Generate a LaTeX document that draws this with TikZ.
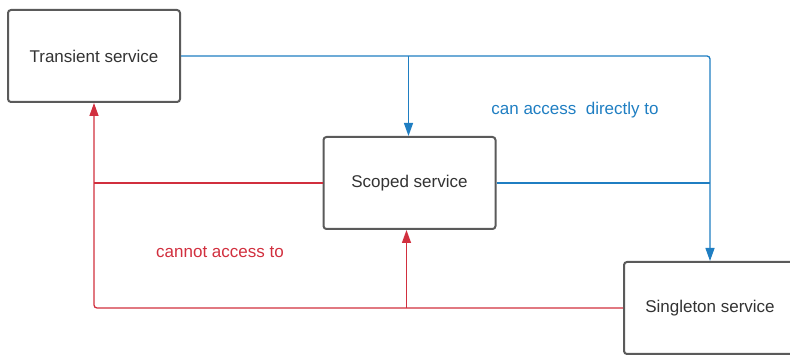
\documentclass[tikz,border=0pt]{standalone}
\usepackage{fontspec}
\setmainfont{Liberation Sans}
\usetikzlibrary{arrows.meta}
\definecolor{boxgray}{HTML}{5A5A5A}
\definecolor{canblue}{HTML}{1F7EC2}
\definecolor{cantred}{HTML}{D12F3E}
\tikzstyle{service} = [rectangle, rounded corners=3pt, minimum width=172pt, minimum height=92pt, draw=boxgray, line width=2pt, fill=white, text=black!80, font=\fontsize{17}{20}\selectfont]
\tikzstyle{access} = [line width=1.3pt, draw=canblue, rounded corners=3pt]
\tikzstyle{noaccess} = [line width=1.3pt, draw=cantred, rounded corners=3pt]
\tikzstyle{tip} = [-{Triangle[length=13pt,width=9pt]}]
\tikzstyle{label} = [font=\fontsize{17}{20}\selectfont]

\begin{document}
\begin{tikzpicture}[x=1pt, y=-1pt]

\useasboundingbox (0,0) rectangle (790,355);
\clip (0,0) rectangle (790,355);

\node (transient) [service] at (94,56) {Transient service};
\node (scoped) [service] at (409.5,183) {Scoped service};
\node (singleton) [service] at (710,308) {Singleton service};

% can access
\draw [access, tip] (transient.east) -| (singleton.north);
\draw [access, tip] ([xshift=-1pt]scoped.north |- transient.east) -- ([xshift=-1pt]scoped.north);
\draw [access] (scoped.east) -- (scoped.east -| singleton.north);
\node (canlabel) [label, text=canblue] at (575,110) {can access\ \ directly to};

% cannot access
\draw [noaccess, tip] (singleton.west) -| (transient.south);
\draw [noaccess, tip] ([xshift=-3pt]scoped.south |- singleton.west) -- ([xshift=-3pt]scoped.south);
\draw [noaccess] (scoped.west) -- (scoped.west -| transient.south);
\node (cantlabel) [label, text=cantred] at (220,252) {cannot access to};

\end{tikzpicture}
\end{document}
